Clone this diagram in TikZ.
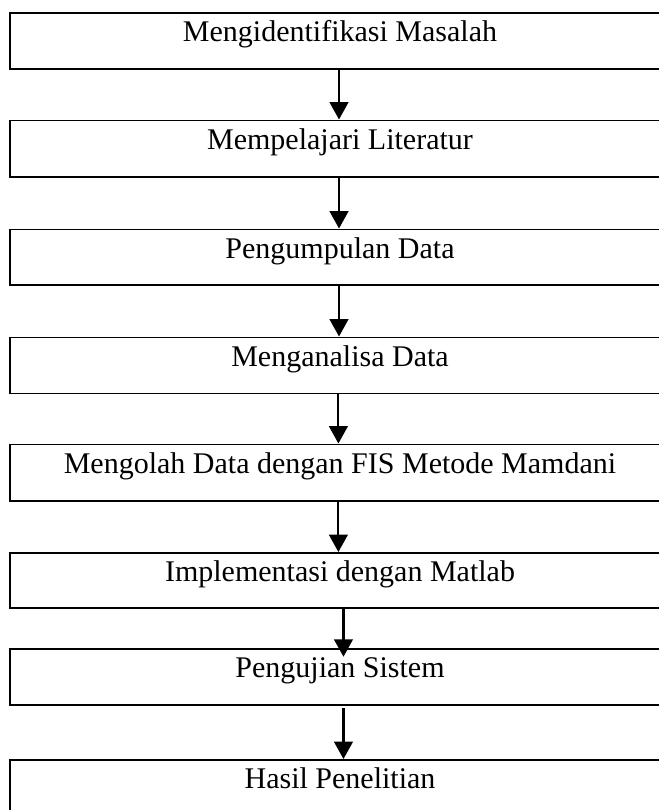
\documentclass[tikz,border=0pt]{standalone}
\usepackage{fontspec}
\setmainfont{Liberation Serif}
\usetikzlibrary{arrows.meta}
\begin{document}
\begin{tikzpicture}[x=0.75pt,y=-0.75pt,
  stepbox/.style={draw=black, line width=1.2pt, rectangle, anchor=north,
    minimum width=495pt, inner sep=0pt, text height=21.6pt,
    font=\fontsize{22.5pt}{26pt}\selectfont},
  arr/.style={line width=1.6pt, -{Triangle[width=14pt,length=13pt]}}]
\useasboundingbox (0,0) rectangle (659,810);
\clip (0,0) rectangle (659,810);
\node[stepbox, text depth=20.4pt] (b1) at (340,12) {Mengidentifikasi Masalah};
\node[stepbox, text depth=20.7pt] (b2) at (340,119.5) {Mempelajari Literatur};
\node[stepbox, text depth=20.1pt] (b3) at (340,228.5) {Pengumpulan Data};
\node[stepbox, text depth=20.4pt] (b4) at (340,336.5) {Menganalisa Data};
\node[stepbox, text depth=20.7pt] (b5) at (340,443.5) {Mengolah Data dengan FIS Metode Mamdani};
\node[stepbox, text depth=19.7pt] (b6) at (340,552) {Implementasi dengan Matlab};
\node[stepbox, text depth=20.2pt] (b7) at (340,648.3) {Pengujian Sistem};
\node[stepbox, text depth=20.4pt] (b8) at (340,759) {Hasil Penelitian};
\draw[arr] ([xshift=-0.75pt]b1.south) -- ([xshift=-0.75pt]b2.north);
\draw[arr] ([xshift=-0.75pt]b2.south) -- ([xshift=-0.75pt]b3.north);
\draw[arr] ([xshift=-0.75pt]b3.south) -- ([xshift=-0.75pt]b4.north);
\draw[arr] ([xshift=-1.2pt]b4.south) -- ([xshift=-1.2pt]b5.north);
\draw[arr] ([xshift=-1.2pt]b5.south) -- ([xshift=-1.2pt]b6.north);
\draw[arr] ([shift={(2.6pt,1.5pt)}]b6.south) -- ([shift={(2.6pt,-6.3pt)}]b7.north);
\draw[arr] ([shift={(2.6pt,-2pt)}]b7.south) -- ([xshift=2.6pt]b8.north);
\end{tikzpicture}
\end{document}
